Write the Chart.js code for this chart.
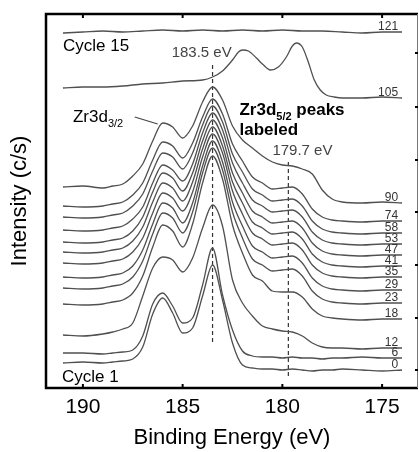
<!DOCTYPE html>
<html>
<head>
<meta charset="utf-8">
<script src="https://cdn.jsdelivr.net/npm/chart.js@4"></script>
<style>
  body { margin: 0; background: #fff; }
  canvas { display: block; }
</style>
</head>
<body>
<canvas id="xpsChart" width="419" height="452"></canvas>
<script>
// Binding energy grid (eV) shared by cycles 0 - 90
const energy = [191, 190, 189, 188.5, 188, 187.5, 187, 186.5, 186, 185.5, 185, 184.5, 184, 183.5, 183, 182.5, 182, 181.5, 181, 180.5, 180, 179.5, 179, 178.5, 178, 177.5, 177, 176, 175, 174];

// Intensity (c/s, stacked with offsets) for each ALD cycle
const cycle0  = [25, 26, 25, 26, 27, 29, 41, 74, 90, 75, 55, 60, 92, 123, 88, 45, 23, 20, 19, 19, 18, 19, 18, 17, 18, 18, 19, 18, 17, 18];
const cycle6  = [35, 35, 34, 35, 36, 38, 52, 84, 95, 82, 65, 70, 103, 140, 93, 58, 37, 32, 31, 31, 30, 31, 30, 30, 29, 30, 30, 31, 30, 30];
const cycle12 = [53, 52, 54, 56, 59, 65, 92, 120, 131, 128, 116, 130, 160, 183, 162, 108, 85, 72, 62, 59, 57, 56, 52, 45, 41, 40, 40, 39, 40, 40];
const cycle18 = [84, 83, 84, 86, 88, 95, 112, 141, 163, 157, 141, 164, 205, 232, 209, 163, 135, 113, 107, 97, 96, 96, 91, 79, 72, 70, 69, 68, 69, 69];
const cycle23 = [100, 99, 100, 102, 104, 111, 127, 154, 175, 170, 155, 176, 215, 240, 218, 176, 150, 129, 123, 117, 118, 119, 112, 97, 89, 86, 85, 84, 85, 85];
const cycle29 = [111, 110, 111, 113, 115, 122, 138, 164, 185, 180, 165, 185, 222, 247, 226, 186, 162, 142, 136, 130, 131, 132, 125, 110, 102, 99, 98, 97, 98, 98];
const cycle35 = [125, 124, 125, 127, 129, 136, 150, 175, 195, 190, 177, 196, 231, 254, 235, 197, 174, 155, 149, 143, 144, 145, 138, 123, 115, 112, 111, 110, 111, 111];
const cycle41 = [136, 135, 136, 138, 140, 147, 161, 186, 205, 200, 187, 206, 239, 261, 242, 206, 185, 166, 160, 154, 155, 156, 149, 134, 126, 123, 122, 121, 122, 122];
const cycle47 = [146, 145, 146, 148, 150, 157, 171, 196, 215, 210, 197, 215, 247, 268, 250, 215, 195, 177, 171, 165, 166, 167, 160, 145, 137, 134, 133, 132, 133, 133];
const cycle53 = [158, 157, 158, 160, 162, 169, 181, 205, 223, 218, 207, 224, 255, 275, 258, 225, 205, 188, 182, 176, 177, 178, 171, 156, 148, 145, 144, 143, 144, 144];
const cycle58 = [171, 170, 171, 173, 175, 182, 194, 217, 235, 231, 219, 235, 263, 282, 266, 234, 216, 199, 193, 187, 188, 189, 182, 167, 159, 156, 155, 154, 155, 155];
const cycle74 = [182, 181, 182, 184, 186, 193, 205, 228, 246, 242, 230, 245, 271, 289, 274, 244, 227, 211, 205, 199, 200, 201, 194, 179, 171, 168, 167, 166, 167, 167];
const cycle90 = [201, 202, 200, 202, 204, 212, 224, 247, 265, 261, 250, 262, 286, 301, 288, 262, 248, 240, 232, 226, 223, 222, 219, 214, 198, 189, 186, 185, 186, 185];

// Cycle 105 has its own (shifted) peaks
const energy105 = [191, 190, 189, 188, 187, 186, 185, 184, 183.5, 183, 182.5, 182.2, 182, 181.7, 181.3, 181, 180.6, 180.2, 179.8, 179.5, 179.3, 179, 178.7, 178.4, 178.1, 177.8, 177.4, 177, 176, 175, 174];
const cycle105  = [300, 301, 301, 302, 304, 305, 307, 308, 311, 317, 328, 336, 338, 337, 330, 324, 318, 321, 331, 342, 345, 341, 326, 308, 298, 293, 291, 290, 290, 291, 290];

// Cycle 121 is basically flat
const energy121 = [191, 190, 189, 188, 187, 186, 185, 184, 183, 182, 181, 180, 179, 178, 177, 176, 175, 174];
const cycle121  = [355, 356, 357, 356, 357, 358, 357, 358, 357, 358, 357, 358, 357, 357, 356, 355, 356, 356];

const xTicks = [190, 185, 180, 175];
const rightTicks = [18, 70, 123, 176, 228, 281, 335];
const peakLines = [183.5, 179.7];

const series = [
    { label: '0', x: energy, y: cycle0 },
    { label: '6', x: energy, y: cycle6 },
    { label: '12', x: energy, y: cycle12 },
    { label: '18', x: energy, y: cycle18 },
    { label: '23', x: energy, y: cycle23 },
    { label: '29', x: energy, y: cycle29 },
    { label: '35', x: energy, y: cycle35 },
    { label: '41', x: energy, y: cycle41 },
    { label: '47', x: energy, y: cycle47 },
    { label: '53', x: energy, y: cycle53 },
    { label: '58', x: energy, y: cycle58 },
    { label: '74', x: energy, y: cycle74 },
    { label: '90', x: energy, y: cycle90 },
    { label: '105', x: energy105, y: cycle105 },
    { label: '121', x: energy121, y: cycle121 }
];

const FONT = "'Liberation Sans', Arial, sans-serif";

const datasets = series.map(s => ({
    label: s.label,
    data: s.x.map((e, i) => ({ x: e, y: s.y[i] })),
    borderColor: '#505050',
    borderWidth: 1.3,
    pointRadius: 0,
    fill: false,
    cubicInterpolationMode: 'monotone'
}));

// dashed markers at the Zr3d5/2 positions
const dashExtent = [[46, 326], [12, 228]];
peakLines.forEach((e, i) => {
    datasets.push({
        label: 'marker' + e,
        data: [{ x: e, y: dashExtent[i][0] }, { x: e, y: dashExtent[i][1] }],
        borderColor: '#333',
        borderWidth: 1.2,
        borderDash: [4, 3],
        pointRadius: 0,
        fill: false
    });
});

const decorations = {
    id: 'decorations',
    afterDatasetsDraw(chart) {
        const { ctx, chartArea: a, scales: { x, y } } = chart;
        ctx.save();

        // frame: heavy left / top / bottom, thin right
        ctx.strokeStyle = '#000';
        ctx.lineWidth = 2.5;
        ctx.beginPath();
        ctx.moveTo(a.right, a.top);
        ctx.lineTo(a.left, a.top);
        ctx.lineTo(a.left, a.bottom);
        ctx.lineTo(a.right, a.bottom);
        ctx.stroke();
        ctx.lineWidth = 1;
        ctx.strokeStyle = '#777';
        ctx.beginPath();
        ctx.moveTo(a.right - 0.5, a.top);
        ctx.lineTo(a.right - 0.5, a.bottom);
        ctx.stroke();

        // inward tick marks
        ctx.strokeStyle = '#000';
        ctx.lineWidth = 2;
        xTicks.forEach(v => {
            const px = x.getPixelForValue(v);
            ctx.beginPath();
            ctx.moveTo(px, a.top);
            ctx.lineTo(px, a.top + 4);
            ctx.moveTo(px, a.bottom);
            ctx.lineTo(px, a.bottom - 4);
            ctx.stroke();
        });
        rightTicks.forEach(v => {
            const py = y.getPixelForValue(v);
            ctx.beginPath();
            ctx.moveTo(a.right, py);
            ctx.lineTo(a.right - 3, py);
            ctx.stroke();
        });

        // cycle numbers at the right end of each trace
        ctx.fillStyle = '#333';
        ctx.font = '12px ' + FONT;
        ctx.textAlign = 'right';
        ctx.textBaseline = 'alphabetic';
        series.forEach(s => {
            const last = s.y[s.y.length - 1];
            ctx.fillText(s.label, x.getPixelForValue(174.2), y.getPixelForValue(last) - 2);
        });

        const text = (str, e, v, font, color) => {
            ctx.font = font;
            ctx.fillStyle = color;
            ctx.textAlign = 'left';
            const px = x.getPixelForValue(e);
            const py = y.getPixelForValue(v);
            ctx.fillText(str, px, py);
            return px + ctx.measureText(str).width;
        };

        text('Cycle 15', 191.0, 337, '17px ' + FONT, '#000');
        text('Cycle 1', 191.05, 6, '17px ' + FONT, '#000');
        text('183.5 eV', 185.55, 331, '15px ' + FONT, '#444');
        text('179.7 eV', 180.5, 233, '15px ' + FONT, '#444');

        // Zr3d3/2 with leader line
        let end = text('Zr3d', 190.5, 266, '17px ' + FONT, '#000');
        ctx.font = '11px ' + FONT;
        ctx.fillText('3/2', end, y.getPixelForValue(266) + 5);
        ctx.strokeStyle = '#444';
        ctx.lineWidth = 1.2;
        ctx.beginPath();
        ctx.moveTo(x.getPixelForValue(187.4), y.getPixelForValue(271));
        ctx.lineTo(x.getPixelForValue(186.25), y.getPixelForValue(264));
        ctx.stroke();

        // Zr3d5/2 peaks labeled
        end = text('Zr3d', 182.15, 273, 'bold 17px ' + FONT, '#000');
        ctx.font = 'bold 11px ' + FONT;
        ctx.fillText('5/2', end, y.getPixelForValue(273) + 5);
        end += ctx.measureText('5/2').width;
        ctx.font = 'bold 17px ' + FONT;
        ctx.fillText(' peaks', end, y.getPixelForValue(273));
        text('labeled', 182.15, 253, 'bold 17px ' + FONT, '#000');

        ctx.restore();
    }
};

new Chart(document.getElementById('xpsChart').getContext('2d'), {
    type: 'line',
    data: { datasets: datasets },
    options: {
        responsive: false,
        animation: false,
        layout: { padding: { top: 14, right: 1, left: 0, bottom: 0 } },
        plugins: {
            legend: { display: false },
            tooltip: { enabled: false }
        },
        scales: {
            x: {
                type: 'linear',
                reverse: true,
                min: 173.2,
                max: 191.85,
                afterBuildTicks: s => { s.ticks = xTicks.map(v => ({ value: v })); },
                afterFit: s => { s.height = 64; },
                grid: { display: false, drawTicks: false },
                border: { display: false },
                ticks: {
                    padding: 7,
                    color: '#000',
                    font: { family: FONT, size: 21 },
                    callback: v => v
                },
                title: {
                    display: true,
                    text: 'Binding Energy (eV)',
                    color: '#000',
                    font: { family: FONT, size: 22 },
                    padding: { top: 0, bottom: 1 }
                }
            },
            y: {
                type: 'linear',
                min: 0,
                max: 374,
                afterFit: s => { s.width = 46; },
                grid: { display: false, drawTicks: false },
                border: { display: false },
                ticks: { display: false },
                title: {
                    display: true,
                    text: 'Intensity (c/s)',
                    color: '#000',
                    font: { family: FONT, size: 22 },
                    padding: { top: 7, bottom: 0 }
                }
            }
        }
    },
    plugins: [decorations]
});
</script>
</body>
</html>
